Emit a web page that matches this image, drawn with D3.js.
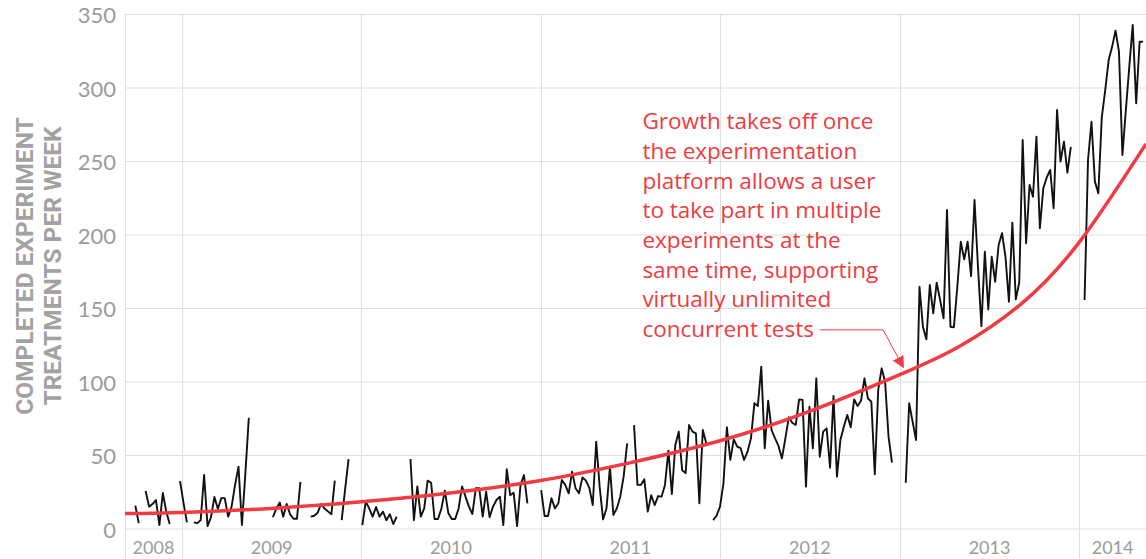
<!DOCTYPE html>
<html>
<head>
<meta charset="utf-8">
<script src="https://cdn.jsdelivr.net/npm/d3@7"></script>
<style>
  html, body { margin: 0; padding: 0; background: #fff; }
  svg { display: block; }
</style>
</head>
<body>
<svg id="chart" width="1146" height="559"></svg>
<script>
// weekly completed experiment treatments, first week starting 2008-09-28 (null = no data)
const firstWeek = new Date(2008, 8, 28);
const weeklyTreatments = [
  15.9, 4, null, 25.9, 15.2, 17, 19.7, 2.7, 24.5, 11.8,
  3.4, null, null, 32.6, 18, 4.5, null, 4.5, 4, 6,
  36.7, 2, 8, 21.8, 13.6, 21, 21, 8.4, 15.2, 30,
  42.4, 2.7, 38, 75.7, null, null, null, null, null, null,
  8, 14, 18, 8.4, 17, 10, 7, 7, 32, null,
  null, 8.4, 9, 11, 17, 14, 12, 10, 32.9, null,
  6, 27, 47.6, null, null, null, 2.7, 18.6, 14, 8.4,
  15, 8.4, 11.8, 6, 10, 3.4, 8.4, null, null, null,
  47.6, 6, 29, 8.4, 14, 32.9, 31.5, 6.8, 6.8, 14,
  26, 10.9, 6.8, 6.8, 14, 29, 22, 15.2, 10.2, 27.7,
  27.7, 8.4, 25.4, 8, 15.2, 19.7, 22, 2.7, 40.6, 23,
  24.7, 2, 30, 36.7, 17.5, null, null, null, 26.5, 8.8,
  8.8, 20.9, 14, 17.5, 33.3, 30, 24.3, 39, 27.7, 24.3,
  35, 33, 28, 16.3, 59.4, 28.8, 6.6, 14, 42.4, 9.5,
  14, 22, 36, 58.3, null, 70.7, 30, 30, 33.8, 11.8,
  23, 16.3, 22.4, 22, 30, 53.3, 23.8, 57, 66.2, 40,
  38, 70.7, 66.2, 65, 17.5, 67.3, 58.3, null, 6, 9,
  15.2, 31, 69.2, 47, 61, 56, 55, 47, 52.6, 61.7,
  85.5, 83.7, 110.4, 54.9, 87.3, 67.3, 61.7, 56.5, 48, 61.7,
  76, 72.3, 70.7, 88.2, 87.8, 28.8, 83.2, 54.9, 102.5, 49.2,
  66.2, 68.5, 41.7, 90.5, 35.6, 60.5, 69.6, 77.6, 69.2, 88.2,
  83.7, 87.3, 102.5, 88.9, 86.6, 37.2, 94.6, 109.3, 100.2, 62.8,
  45.1, null, null, null, 31.5, 85.5, 73, 60.5, 164.8, 137.6,
  129, 166, 146.7, 167.6, 155.8, 143.3, 217, 137.6, 137.2, 164.8,
  195.4, 183.4, 195.4, 172, 223.8, 178.4, 138, 188.6, 149.4, 185.2,
  168.2, 193.2, 201.2, 185.2, 154.6, 208.4, 156.2, 167.6, 264.6, 194.4,
  234, 226, 266.9, 204.6, 231.8, 239.2, 244.2, 218.2, 285, 249.9,
  263.5, 242.4, 260, null, null, null, 155.8, 251, 277, 236.3,
  228.4, 280, 298.6, 319, 328, 339, 324.7, 254.4, 285, 314.5,
  342.9, 289.6, 331.5, 331.5
];

// growth trend (red curve)
const trendDates = ['2008-09-07', '2009-01-01', '2009-07-01', '2010-01-01', '2010-07-01', '2011-01-01',
  '2011-07-01', '2012-01-01', '2012-07-01', '2013-01-01', '2013-05-01', '2013-09-01',
  '2014-01-01', '2014-05-17'];
const trendValues = [10.5, 11.2, 14, 18.5, 24.5, 33, 45, 60, 80, 105, 124, 152, 195, 262];

const yTicks = [0, 50, 100, 150, 200, 250, 300, 350];
const years = [2008, 2009, 2010, 2011, 2012, 2013, 2014];
const yTitle = ['COMPLETED EXPERIMENT', 'TREATMENTS PER WEEK'];

const noteLines = ['Growth takes off once', 'the experimentation', 'platform allows a user',
  'to take part in multiple', 'experiments at the', 'same time, supporting',
  'virtually unlimited', 'concurrent tests'];
const noteAt = { date: '2011-07-27', value: 272 };
const noteElbow = { date: '2012-11-28', value: 135.5 };
const noteTip = { date: '2013-01-08', value: 110 };

const red = '#ef3b41';
const grey = '#9b9b9b';
const gridColor = '#dedede';
const parse = d3.timeParse('%Y-%m-%d');

const svg = d3.select('#chart');
const plotLeft = 125, plotRight = 1146, plotTop = 14.5, plotBottom = 529;

const x = d3.scaleTime()
  .domain([new Date(2008, 8, 7), new Date(2014, 4, 17)])
  .range([plotLeft, plotRight]);
const y = d3.scaleLinear().domain([0, 350]).range([plotBottom, plotTop]);

// gridlines
svg.append('g').selectAll('line')
  .data(yTicks)
  .join('line')
  .attr('x1', plotLeft).attr('x2', plotRight)
  .attr('y1', d => y(d)).attr('y2', d => y(d))
  .attr('stroke', gridColor).attr('stroke-width', 1);

const yearEdges = [x.domain()[0]].concat(years.slice(1).map(yr => new Date(yr, 0, 1)));
svg.append('g').selectAll('line')
  .data(yearEdges)
  .join('line')
  .attr('x1', d => Math.round(x(d)) + 0.5).attr('x2', d => Math.round(x(d)) + 0.5)
  .attr('y1', plotTop).attr('y2', 559)
  .attr('stroke', gridColor).attr('stroke-width', 1);

// y tick labels
svg.append('g').selectAll('text')
  .data(yTicks)
  .join('text')
  .attr('x', 116)
  .attr('y', d => y(d))
  .attr('dy', '0.4em')
  .attr('text-anchor', 'end')
  .attr('fill', grey)
  .style('font', '22px Lato, "Open Sans", sans-serif')
  .text(d => d);

// year labels, centred on the visible part of each year
svg.append('g').selectAll('text')
  .data(years)
  .join('text')
  .attr('x', yr => {
    const a = Math.max(x(new Date(yr, 0, 1)), plotLeft);
    const b = Math.min(x(new Date(yr + 1, 0, 1)), plotRight);
    return (a + b) / 2;
  })
  .attr('y', 554)
  .attr('text-anchor', 'middle')
  .attr('fill', grey)
  .style('font', '18px Lato, "Open Sans", sans-serif')
  .text(yr => yr);

// y axis title
svg.append('g')
  .attr('transform', 'translate(0,266) rotate(-90)')
  .selectAll('text')
  .data(yTitle)
  .join('text')
  .attr('x', 0)
  .attr('y', (d, i) => 33 + i * 28)
  .attr('text-anchor', 'middle')
  .attr('fill', '#a2a2a2')
  .style('font', 'bold 24.5px Roboto, "Liberation Sans", sans-serif')
  .text(d => d);

svg.append('clipPath').attr('id', 'plot')
  .append('rect').attr('x', plotLeft).attr('y', 0).attr('width', plotRight - plotLeft).attr('height', 559);

// weekly series
const weekly = weeklyTreatments.map((v, i) => ({ date: d3.timeDay.offset(firstWeek, i * 7), value: v }));
const line = d3.line()
  .defined(d => d.value !== null)
  .x(d => x(d.date))
  .y(d => y(d.value));

svg.append('path')
  .datum(weekly)
  .attr('clip-path', 'url(#plot)')
  .attr('fill', 'none')
  .attr('stroke', '#111')
  .attr('stroke-width', 1.9)
  .attr('stroke-linejoin', 'round')
  .attr('d', line);

// trend
const trend = trendDates.map((d, i) => ({ date: parse(d), value: trendValues[i] }));
svg.append('path')
  .datum(trend)
  .attr('clip-path', 'url(#plot)')
  .attr('fill', 'none')
  .attr('stroke', red)
  .attr('stroke-width', 3.5)
  .attr('d', d3.line().curve(d3.curveNatural).x(d => x(d.date)).y(d => y(d.value)));

// annotation
const noteX = x(parse(noteAt.date));
const noteY = y(noteAt.value);
const note = svg.append('g')
  .attr('fill', red)
  .style('font', '22.5px "Open Sans", Roboto, sans-serif');
note.selectAll('text')
  .data(noteLines)
  .join('text')
  .attr('x', noteX)
  .attr('y', (d, i) => noteY + i * 29.7)
  .text(d => d);

const lastLine = note.selectAll('text').filter((d, i) => i === noteLines.length - 1).node();
const leaderStart = noteX + lastLine.getComputedTextLength() + 6;

svg.append('defs').append('marker')
  .attr('id', 'arrow')
  .attr('viewBox', '0 0 10 10')
  .attr('refX', 9).attr('refY', 5)
  .attr('markerWidth', 12).attr('markerHeight', 12)
  .attr('markerUnits', 'userSpaceOnUse')
  .attr('orient', 'auto')
  .append('path')
  .attr('d', 'M0,0 L10,5 L0,10 z')
  .attr('fill', red);

svg.append('polyline')
  .attr('points', [
    [leaderStart, y(noteElbow.value)],
    [x(parse(noteElbow.date)), y(noteElbow.value)],
    [x(parse(noteTip.date)), y(noteTip.value)]
  ].map(p => p.join(',')).join(' '))
  .attr('fill', 'none')
  .attr('stroke', red)
  .attr('stroke-width', 1)
  .attr('marker-end', 'url(#arrow)');
</script>
</body>
</html>
